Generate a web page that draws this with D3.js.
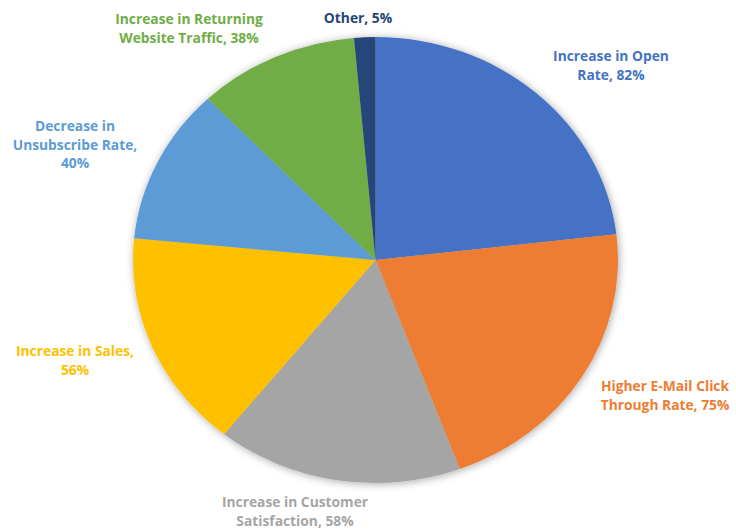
<!DOCTYPE html>
<html>
<head>
<meta charset="utf-8">
<script src="https://cdn.jsdelivr.net/npm/d3@7"></script>
<style>
  body { margin: 0; background: #fff; }
  .lbl { font-family: "Open Sans", Lato, sans-serif; font-weight: 700; font-size: 13.8px; }
</style>
</head>
<body>
<div id="chart"></div>
<script>
var categories = [
    ["Increase in Open", "Rate, 82%"],
    ["Higher E-Mail Click", "Through Rate, 75%"],
    ["Increase in Customer", "Satisfaction, 58%"],
    ["Increase in Sales,", "56%"],
    ["Decrease in", "Unsubscribe Rate,", "40%"],
    ["Increase in Returning", "Website Traffic, 38%"],
    ["Other, 5%"]
];
var values = [82, 75, 58, 56, 40, 38, 5];
var colors = ["#4472C4", "#ED7D31", "#A5A5A5", "#FFC000", "#5B9BD5", "#70AD47", "#264478"];

// label anchor (centre x, first baseline y)
var labelPos = [[611, 61], [665, 391], [295, 507], [75, 356], [75, 131], [189, 24], [358, 23]];

var width = 736;
var height = 530;
var cx = 375.5, cy = 260;
var rx = 242.5, ry = 223;

var svg = d3.select("#chart").append("svg")
    .attr("width", width)
    .attr("height", height);

var defs = svg.append("defs");
var filter = defs.append("filter")
    .attr("id", "shadow")
    .attr("x", "-10%").attr("y", "-10%")
    .attr("width", "120%").attr("height", "120%");
filter.append("feGaussianBlur").attr("in", "SourceAlpha").attr("stdDeviation", 4).attr("result", "blur");
filter.append("feOffset").attr("in", "blur").attr("dx", 1).attr("dy", 1).attr("result", "off");
filter.append("feComponentTransfer").attr("in", "off").attr("result", "sh")
    .append("feFuncA").attr("type", "linear").attr("slope", 0.35);
var merge = filter.append("feMerge");
merge.append("feMergeNode").attr("in", "sh");
merge.append("feMergeNode").attr("in", "SourceGraphic");

var pie = d3.pie().sort(null).value(function (d) { return d; });
var arc = d3.arc().innerRadius(0).outerRadius(100);

var outer = svg.append("g").attr("filter", "url(#shadow)");
var pieWrap = outer.append("g")
    .attr("transform", "translate(" + cx + "," + cy + ") scale(" + (rx / 100) + "," + (ry / 100) + ")");

pieWrap.selectAll("path")
    .data(pie(values))
    .enter()
    .append("path")
    .attr("d", arc)
    .attr("fill", function (d, i) { return colors[i]; });

var labels = svg.selectAll(".lbl")
    .data(categories)
    .enter()
    .append("text")
    .attr("class", "lbl")
    .attr("text-anchor", "middle")
    .attr("fill", function (d, i) { return colors[i]; })
    .attr("x", function (d, i) { return labelPos[i][0]; })
    .attr("y", function (d, i) { return labelPos[i][1]; });

labels.each(function (d, i) {
    var t = d3.select(this);
    d.forEach(function (line, j) {
        t.append("tspan")
            .attr("x", labelPos[i][0])
            .attr("dy", j === 0 ? 0 : 18.5)
            .text(line);
    });
});
</script>
</body>
</html>
